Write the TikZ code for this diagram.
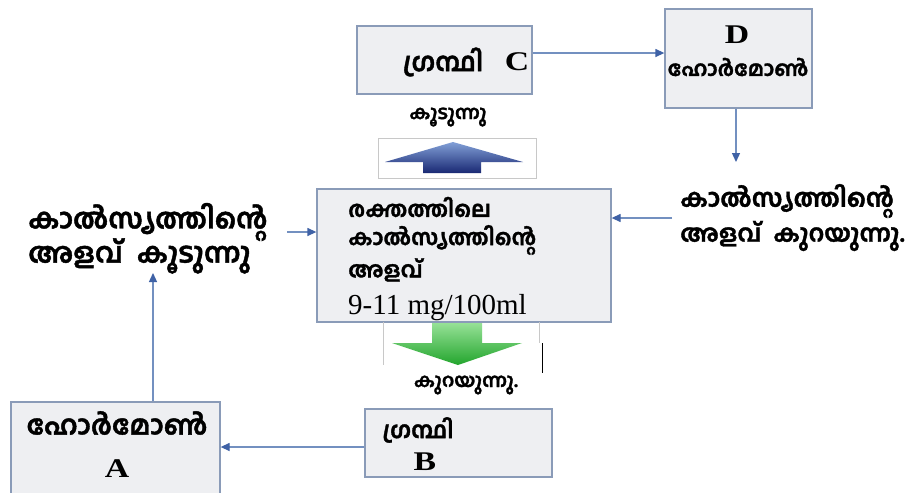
\documentclass[tikz,border=0pt]{standalone}
\usepackage{fontspec}
\setmainfont{Liberation Serif}
\newfontfamily\mal[Script=Malayalam, BoldFeatures={FakeBold=1.5}]{Hind Kochi}
\newfontfamily\lat[FakeStretch=1.25]{Liberation Serif}
\usetikzlibrary{arrows.meta}
\definecolor{boxfill}{HTML}{EEEFF2}
\definecolor{boxline}{HTML}{8A9BB8}
\definecolor{arrline}{HTML}{7390C0}
\definecolor{arrhead}{HTML}{3F62A6}
\definecolor{framegrey}{HTML}{C8C8C8}
\tikzset{
  box/.style={draw=boxline, fill=boxfill, line width=1.3pt, inner sep=0pt},
  conn/.style={draw=arrline, line width=1.3pt, -{Triangle[length=9pt,width=8pt,color=arrhead]}},
  mtxt/.style={font=\mal\bfseries\fontsize{#1}{#1}\selectfont, inner sep=0pt},
  mtxt/.default=19,
  ltxt/.style={font=\lat\bfseries\fontsize{27}{30}\selectfont, inner sep=0pt},
  ntxt/.style={font=\fontsize{29}{30}\selectfont, inner sep=0pt},
}
\begin{document}
\begin{tikzpicture}[x=1pt,y=-1pt]
\useasboundingbox (0,0) rectangle (914,493);
\fill[white] (0,0) rectangle (914,493);
% boxes
\node[box, minimum width=175pt, minimum height=68pt] (C) at (444.5,60) {};
\node[box, minimum width=147pt, minimum height=99pt] (D) at (738.5,58.5) {};
\node[box, minimum width=294pt, minimum height=133pt] (M) at (464,255.5) {};
\node[box, minimum width=209pt, minimum height=110pt] (A) at (115.5,457) {};
\node[box, minimum width=187pt, minimum height=68pt] (B) at (458.5,443) {};
% texts in boxes
\node[mtxt=26] (Ct) at (443,62) {ഗ്രന്ഥി};
\node[ltxt] (Cl) at (517,62) {C};
\node[ltxt] (Dl) at (737,35) {D};
\node[mtxt=21] (Dt) at (738,67) {ഹോർമോൺ};
\node[mtxt=22, anchor=west] (M1) at (348,207) {രക്തത്തിലെ};
\node[mtxt=22, anchor=west] (M2) at (348,240) {കാൽസ്യത്തിന്റെ};
\node[mtxt=22, anchor=west] (M3) at (348,270) {അളവ്};
\node[ntxt, anchor=west] (M4) at (348,308) {9-11 mg/100ml};
\node[mtxt=27] (At) at (117,423) {ഹോർമോൺ};
\node[ltxt] (Al) at (117,469) {A};
\node[mtxt=23] (Bt) at (418,430) {ഗ്രന്ഥി};
\node[ltxt] (Bl) at (425,462) {B};
% free texts
\node[mtxt=28, anchor=west] (L1) at (28,222) {കാൽസ്യത്തിന്റെ};
\node[mtxt=28, anchor=west] (L2) at (28,256) {അളവ്\ \ കൂടുന്നു};
\node[mtxt=25, anchor=west] (R1) at (680,201) {കാൽസ്യത്തിന്റെ};
\node[mtxt=24, anchor=west] (R2) at (680,236) {അളവ്\ \ കുറയുന്നു.};
\node[mtxt=19] (Up) at (448,117) {കൂടുന്നു};
\node[mtxt=19] (Dn) at (466,385) {കുറയുന്നു.};
% up block arrow
\draw[framegrey, line width=0.6pt] (378,138) rectangle (536,178);
\shade[top color={rgb,255:red,130;green,160;blue,215}, bottom color={rgb,255:red,25;green,40;blue,115}]
  (385,162) -- (453,142) -- (523,162) -- (481,162) -- (481,173) -- (423,173) -- (423,162) -- cycle;
% down block arrow
\draw[framegrey, line width=0.8pt] (383,322) -- (383,365);
\draw[framegrey, line width=0.8pt] (539,322) -- (539,343);
\draw[black, line width=1pt] (542,343) -- (542,373);
\shade[top color={rgb,255:red,150;green,225;blue,150}, bottom color={rgb,255:red,35;green,165;blue,45}]
  (432,323) -- (482,323) -- (482,343) -- (522,343) -- (458,365) -- (392,343) -- (432,343) -- cycle;
% connectors
\coordinate (dEnd) at (736,162);
\coordinate (rStart) at (672,218);
\coordinate (lStart) at (287,232);
\coordinate (aEnd) at (153,273);
\draw[conn] (C.east |- 0,53) -- (D.west |- 0,53);
\draw[conn] (D.south -| dEnd) -- (dEnd);
\draw[conn] (rStart) -- (M.east |- rStart);
\draw[conn] (lStart) -- (M.west |- lStart);
\draw[conn] (A.north -| aEnd) -- (aEnd);
\draw[conn] (B.west |- 0,447) -- (A.east |- 0,447);
\end{tikzpicture}
\end{document}
